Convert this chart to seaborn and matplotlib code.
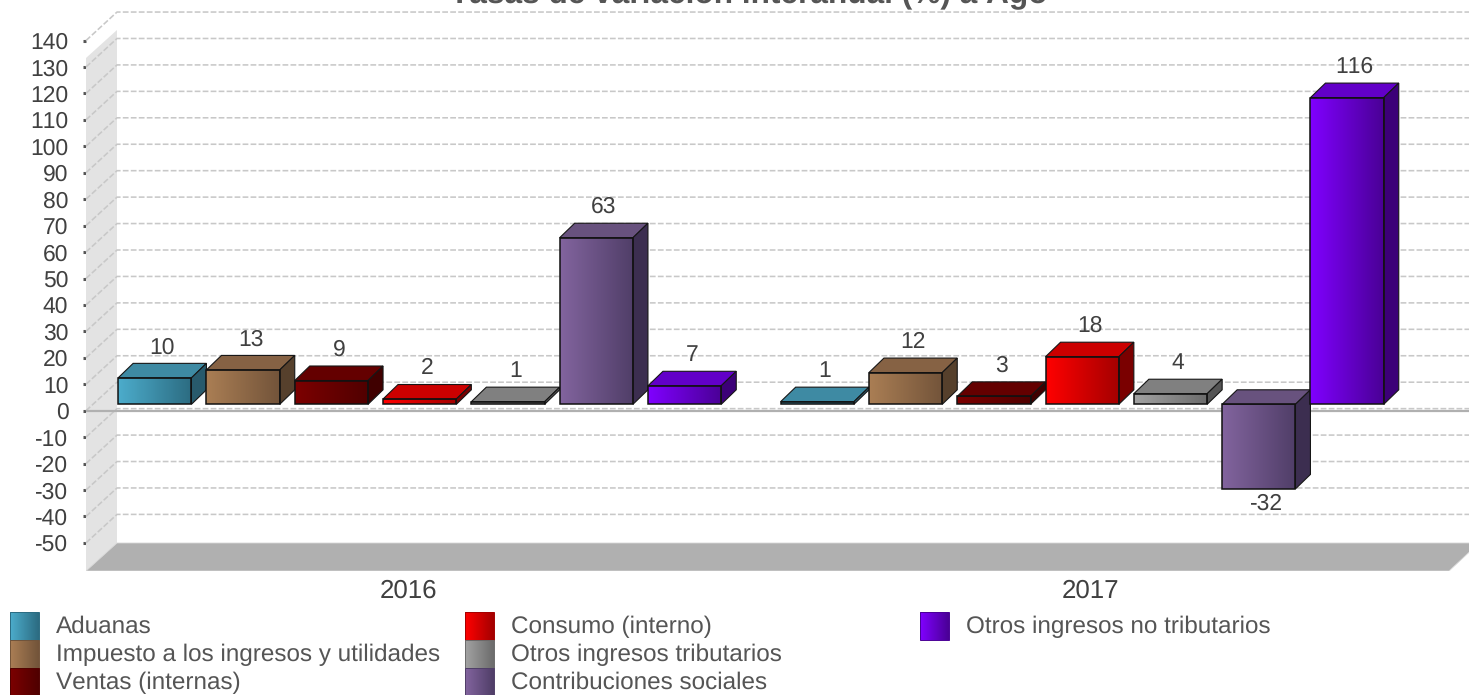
import numpy as np
import pandas as pd
import seaborn as sns
import matplotlib.pyplot as plt
from matplotlib.colors import LinearSegmentedColormap
from matplotlib.patches import Polygon, Rectangle

# Data
anios = ["2016", "2017"]
conceptos = [
    "Aduanas",
    "Impuesto a los ingresos y utilidades",
    "Ventas (internas)",
    "Consumo (interno)",
    "Otros ingresos tributarios",
    "Contribuciones sociales",
    "Otros ingresos no tributarios",
]
valores_2016 = [10, 13, 9, 2, 1, 63, 7]
valores_2017 = [1, 12, 3, 18, 4, -32, 116]
y_ticks = [140, 130, 120, 110, 100, 90, 80, 70, 60, 50, 40, 30, 20, 10, 0,
           -10, -20, -30, -40, -50]

# Colors: gradient start, gradient end, top face, side face
colores = {
    "Aduanas": ("#4caccb", "#2c6c82", "#3e8aa3", "#285a6c"),
    "Impuesto a los ingresos y utilidades": ("#aa7e54", "#73543a", "#866244", "#56402c"),
    "Ventas (internas)": ("#7c0000", "#500000", "#640000", "#400000"),
    "Consumo (interno)": ("#ff0000", "#a40000", "#cc0000", "#7a0000"),
    "Otros ingresos tributarios": ("#a2a2a2", "#6c6c6c", "#808080", "#555555"),
    "Contribuciones sociales": ("#82649e", "#503e68", "#68527e", "#3c2e50"),
    "Otros ingresos no tributarios": ("#8000ff", "#4a0096", "#6200c8", "#3c0078"),
}

df = pd.DataFrame({
    "anio": [a for a in anios for _ in conceptos],
    "concepto": conceptos * 2,
    "valor": valores_2016 + valores_2017,
})

sns.set_style("white")
plt.rcParams["font.family"] = ["Liberation Sans", "DejaVu Sans"]
plt.rcParams["text.kerning_factor"] = 10
plt.rcParams["text.hinting"] = "none"

W, H = 1469, 695
fig = plt.figure(figsize=(W / 100, H / 100), dpi=100)

# Scale of the plot: pixels per category and per 10 units
PX_X = 662.5
PX_Y = 2.644
ZERO_PX = 410.7
LEFT_PX = 86
BOTTOM_PX = 571
CAT0_PX = 419.7

ax = fig.add_axes([LEFT_PX / W, (H - BOTTOM_PX) / H, (W - LEFT_PX) / W, BOTTOM_PX / H])
ax.patch.set_visible(False)

sns.barplot(
    data=df, x="anio", y="valor", hue="concepto", order=anios, hue_order=conceptos,
    palette={k: v[0] for k, v in colores.items()},
    width=0.933, gap=0.17, saturation=1, legend=False, ax=ax,
    edgecolor="#111111", linewidth=1.1, zorder=5,
)

x0 = (LEFT_PX - CAT0_PX) / PX_X
x1 = (W - CAT0_PX) / PX_X
ax.set_xlim(x0, x1)
ax.set_ylim(-(BOTTOM_PX - ZERO_PX) / PX_Y, ZERO_PX / PX_Y)

def dx(px):
    return px / PX_X

def dy(px):
    return px / PX_Y

# Back wall and floor
back_x = x0 + dx(31)
back_y = dy(28.5)
y_bot = ax.get_ylim()[0]
ax.add_patch(Polygon(
    [(x0, dy(ZERO_PX - 58)), (back_x, dy(ZERO_PX - 30)), (back_x, y_bot + dy(28)), (x0, y_bot)],
    closed=True, fc="#e3e3e3", ec="none", zorder=1, clip_on=False,
))
ax.add_patch(Polygon(
    [(x0, y_bot), (back_x, y_bot + dy(28)), (x0 + dx(1393), y_bot + dy(28)), (x0 + dx(1363), y_bot)],
    closed=True, fc="#b0b0b0", ec="#d8d8d8", lw=0.6, zorder=1, clip_on=True,
))

# Grid on the wall and the back plane
for v in y_ticks:
    ax.plot([x0, back_x, x1], [v, v + back_y, v + back_y], color="#c8c8c8", lw=1.15,
            ls=(0, (3.6, 1.4)), zorder=2, clip_on=False)
ax.plot([x0, x1], [0, 0], color="#b0b0b0", lw=1.6, zorder=2.5)

# Bars sit a little above the zero line, then get their 3D faces
base = dy(6.4)
depth_x = dx(15)
depth_y = dy(14.5)
for i, (cont, nombre) in enumerate(zip(ax.containers, conceptos)):
    g0, g1, c_top, c_side = colores[nombre]
    cmap = LinearSegmentedColormap.from_list(nombre, [g0, g1])
    zo = 5 + i
    for bar in cont:
        val = bar.get_height()
        bar.set_y(base)
        bar.set_facecolor("none")
        bar.set_zorder(zo + 0.5)
        x, w = bar.get_x(), bar.get_width()
        hi, lo = max(base, base + val), min(base, base + val)
        ax.imshow(np.linspace(0, 1, 64)[None, :], cmap=cmap, aspect="auto",
                  extent=[x, x + w, lo, hi], zorder=zo, interpolation="bilinear")
        ax.add_patch(Polygon(
            [(x, hi), (x + depth_x, hi + depth_y), (x + w + depth_x, hi + depth_y), (x + w, hi)],
            closed=True, fc=c_top, ec="#161616", lw=0.8, zorder=zo + 0.1))
        ax.add_patch(Polygon(
            [(x + w, lo), (x + w + depth_x, lo + depth_y), (x + w + depth_x, hi + depth_y), (x + w, hi)],
            closed=True, fc=c_side, ec="#161616", lw=0.8, zorder=zo + 0.1))
        # Value label
        if val >= 0:
            pos, off = hi + depth_y, 16
        else:
            pos, off = lo, -15
        ax.annotate(f"{int(val)}", (x + w / 2 + depth_x / 2, pos), xytext=(0, off * 0.72),
                    textcoords="offset points", ha="center", va="center",
                    fontsize=16.5, color="#404040", zorder=20)

ax.set_xlim(x0, x1)
ax.set_ylim(-(BOTTOM_PX - ZERO_PX) / PX_Y, ZERO_PX / PX_Y)

# Axes
sns.despine(ax=ax, left=True, bottom=True, top=True, right=True)
ax.set_xlabel("")
ax.set_ylabel("")
ax.set_yticks(y_ticks)
ax.set_yticklabels([str(v) for v in y_ticks])
ax.tick_params(axis="y", length=2.2, width=2.2, color="#555555", pad=10.5,
               labelsize=16.5, labelcolor="#404040", left=True)
ax.set_xticks([(408 - CAT0_PX) / PX_X, (1090 - CAT0_PX) / PX_X])
ax.set_xticklabels(anios)
ax.tick_params(axis="x", length=0, pad=6, labelsize=18.6, labelcolor="#404040")

# Overlay in pixel coordinates for the title and the legend
over = fig.add_axes([0, 0, 1, 1])
over.set_xlim(0, W)
over.set_ylim(H, 0)
over.axis("off")
over.patch.set_visible(False)

over.text(749, 3, "Tasas de variación interanual (%) a Ago", ha="center", va="baseline",
          fontsize=22.8, fontweight="bold", color="#555555")

col_x = [10, 465, 920]
fila_y = [612, 640, 668]
for i, nombre in enumerate(conceptos):
    g0, g1, c_top, c_side = colores[nombre]
    sx = col_x[i // 3]
    sy = fila_y[i % 3]
    cmap = LinearSegmentedColormap.from_list(nombre + "_l", [g0, g1])
    over.imshow(np.linspace(0, 1, 32)[None, :], cmap=cmap, aspect="auto",
                extent=[sx, sx + 29, sy + 28, sy], zorder=2, interpolation="bilinear")
    over.add_patch(Rectangle((sx, sy), 29, 28, fc="none", ec=g1, lw=0.7, zorder=3))
    over.text(sx + 46, sy + 15, nombre, ha="left", va="center", fontsize=17.5,
              color="#555555")
over.set_xlim(0, W)
over.set_ylim(H, 0)

fig.savefig("out.png", dpi=100)
plt.close()
